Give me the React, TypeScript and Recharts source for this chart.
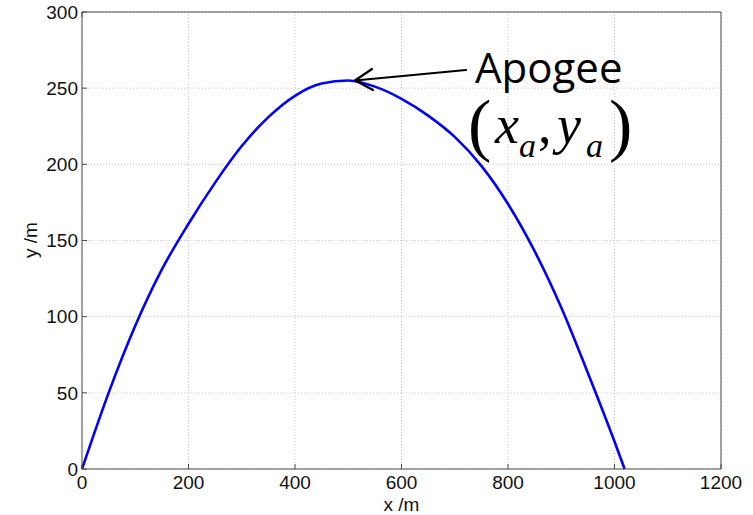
import { LineChart, Line, XAxis, YAxis, CartesianGrid } from "recharts";

const xValues = [0, 50, 100, 150, 200, 250, 300, 350, 400, 450, 500, 550, 600, 650, 700, 750, 800, 850, 900, 950, 1000, 1019];
const yValues = [0, 50, 94, 131, 161, 188, 212, 231, 245, 253, 255, 251, 243, 232, 218, 199, 174, 143, 106, 63, 18, 0];
const xTicks = [0, 200, 400, 600, 800, 1000, 1200];
const yTicks = [0, 50, 100, 150, 200, 250, 300];

const data = xValues.map((x, i) => ({ x, y: yValues[i] }));

const axisColor = "#4a4a4a";
const tickFont = { fontFamily: "Liberation Sans", fontSize: 19, fill: "#111" };

const noTick = () => <g />;

export default function App() {
  return (
    <div style={{ position: "absolute", left: 0, top: 0, width: 753, height: 515, background: "#fff" }}>
      <LineChart width={753} height={515} data={data} margin={{ top: 11, right: 31, left: 0, bottom: 0 }}>
        <CartesianGrid stroke="#cccccc" strokeDasharray="1 2" />
        <XAxis dataKey="x" type="number" domain={[0, 1200]} ticks={xTicks} height={46}
          stroke={axisColor} tickSize={-5} tickMargin={12} tick={tickFont}
          label={{ value: "x /m", position: "insideBottom", offset: 4, style: { fontFamily: "Liberation Sans", fontSize: 19, fill: "#111" } }} />
        <XAxis xAxisId="top" orientation="top" type="number" domain={[0, 1200]} ticks={xTicks} height={1}
          stroke={axisColor} tickSize={-5} tick={noTick} />
        <YAxis dataKey="y" type="number" domain={[0, 300]} ticks={yTicks} width={82}
          stroke={axisColor} tickSize={-5} tickMargin={9} tick={tickFont} />
        <YAxis yAxisId="right" orientation="right" type="number" domain={[0, 300]} ticks={yTicks} width={1}
          stroke={axisColor} tickSize={-5} tick={noTick} />
        <Line type="monotone" dataKey="y" stroke="#0000ff" strokeWidth={2.6} dot={false} isAnimationActive={false} />
      </LineChart>
      <svg width={753} height={515} style={{ position: "absolute", left: 0, top: 0, pointerEvents: "none" }}>
        <text x={30} y={240} transform="rotate(-90 30 240)" textAnchor="middle" dominantBaseline="central"
          fontFamily="Liberation Sans" fontSize={19} fill="#111">y /m</text>
        <g stroke="#000" strokeWidth={2.2} fill="none" strokeLinecap="round">
          <line x1={466} y1={70} x2={355} y2={80.5} />
          <polyline points="372,69 355,80.5 373,90" />
        </g>
        <text x={475} y={83} fontFamily="Open Sans" fontSize={42} fill="#000">Apogee</text>
        <g fontFamily="Liberation Serif" fill="#000">
          <text x={468} y={148} fontSize={70}>(</text>
          <text x={495} y={143} fontSize={54} fontStyle="italic">x</text>
          <text x={519} y={157} fontSize={34} fontStyle="italic">a</text>
          <text x={538} y={143} fontSize={54}>,</text>
          <text x={557} y={143} fontSize={54} fontStyle="italic">y</text>
          <text x={586} y={157} fontSize={34} fontStyle="italic">a</text>
          <text x={609} y={148} fontSize={70}>)</text>
        </g>
      </svg>
    </div>
  );
}
